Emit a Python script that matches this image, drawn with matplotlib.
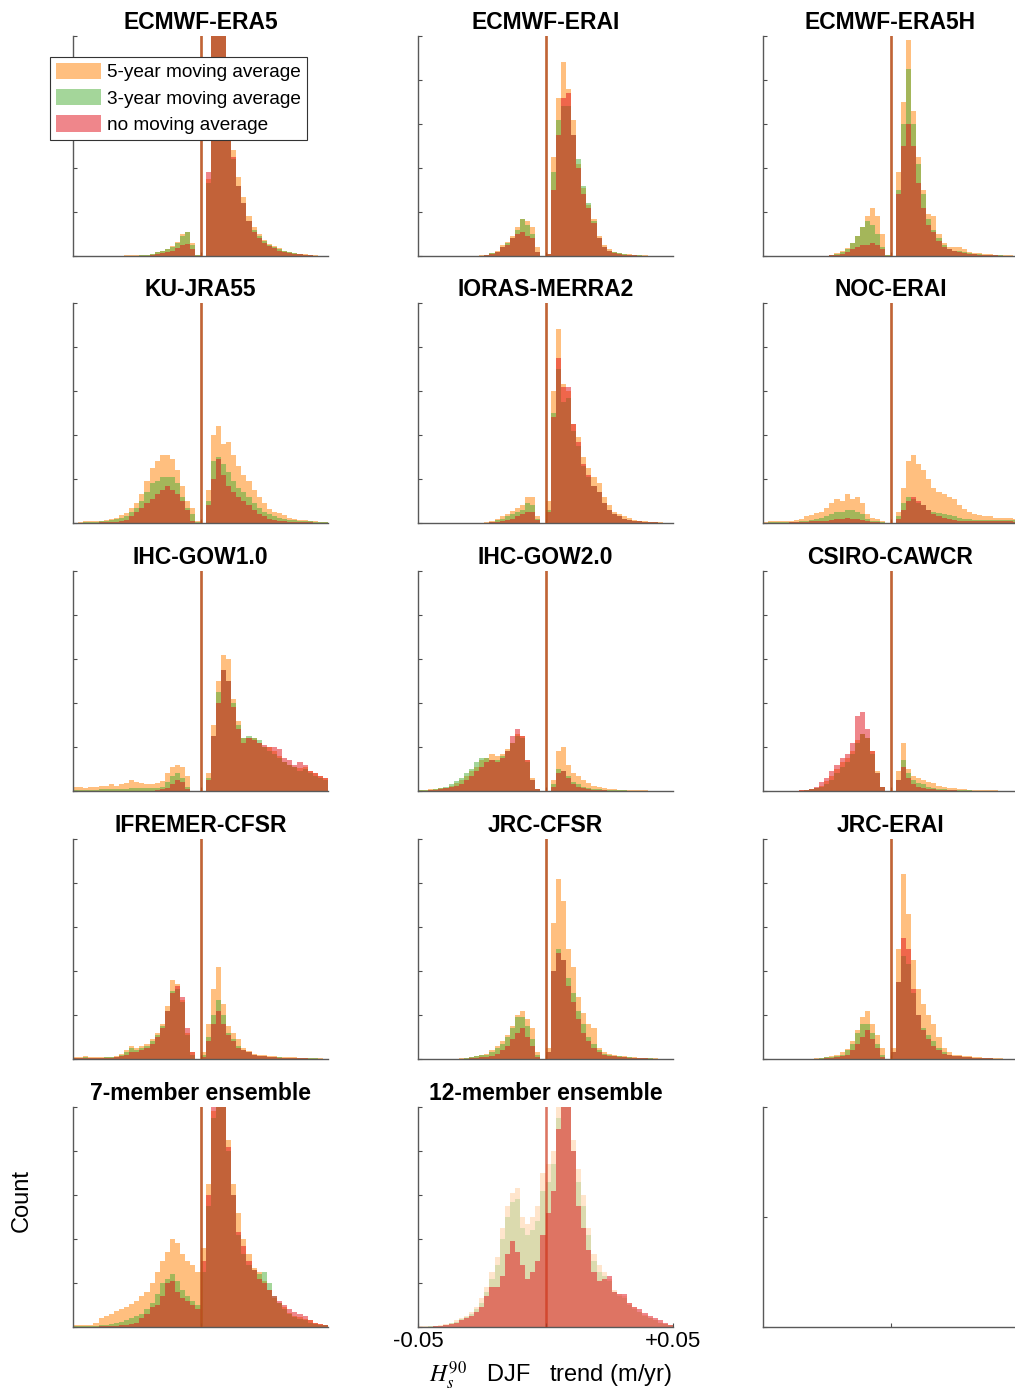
import numpy as np
import matplotlib
matplotlib.use("Agg")
import matplotlib.pyplot as plt
from matplotlib.patches import Patch

plt.rcParams['font.family'] = ['Liberation Sans', 'DejaVu Sans']
plt.rcParams['mathtext.fontset'] = 'stix'

# ---------------- data ----------------
BIN_EDGES = np.linspace(-0.05, 0.05, 51)   # trend bins (m/yr), width 0.002
SERIES_LABELS = ["5-year moving average", "3-year moving average", "no moving average"]
TITLES = ["ECMWF-ERA5", "ECMWF-ERAI", "ECMWF-ERA5H",
          "KU-JRA55", "IORAS-MERRA2", "NOC-ERAI",
          "IHC-GOW1.0", "IHC-GOW2.0", "CSIRO-CAWCR",
          "IFREMER-CFSR", "JRC-CFSR", "JRC-ERAI",
          "7-member ensemble", "12-member ensemble"]

# counts in relative units (axis top = 100); order: 5-yr, 3-yr, none
ERA5_5 = [0,0,0,0,0,0,0,0,0,0, 0.3,0.3,0.3,0.5,0.5,1,2,2.5,3,4.5, 6.5,10,11,6,0.5,0,35,110,130,115,
          72,48,36,27,18,13,10,7.5,5.5,4.5, 3.5,2.5,2,1.5,1,0.8,0.5,0.3,0.2,0]
ERA5_3 = [0,0,0,0,0,0,0,0,0,0, 0,0.2,0.2,0.3,0.5,1,2,2.5,3,4, 6,9,11,5,0.3,0,33,105,125,110,
          68,44,32,24,16,12,9,7,5,4, 3,2.5,2,1.5,1,0.6,0.4,0.2,0.1,0]
ERA5_0 = [0,0,0,0,0,0,0,0,0,0, 0,0,0,0,0,0.5,1,1.5,2,2.5, 3.5,5,5.5,3,0,0,38,110,135,112,
          70,45,32,24,16,11,8,6,4.5,3.5, 2.5,2,1.5,1,0.8,0.5,0.3,0.2,0.1,0]

ERAI_5 = [0,0,0,0,0,0,0,0,0,0, 0,0.1,0.3,0.5,1.5,2.5,5,6.5,9,13, 17,16,13,4,0,1,45,72,88,76,
          62,42,31,23,17,9,5,3,2,1.5, 1,0.8,0.6,0.4,0.3,0.2,0.1,0,0.1,0]
ERAI_3 = [0,0,0,0,0,0,0,0,0,0, 0,0,0.2,0.4,1.2,2,4,6,8,12, 17,14,10,2,0,1,38,62,68,68,
          55,44,32,24,16,8,4,2.5,1.8,1.2, 0.8,0.6,0.4,0.3,0.2,0.1,0.1,0,0,0]
ERAI_0 = [0,0,0,0,0,0,0,0,0,0, 0,0,0.2,0.4,1,1.8,4,5,8,10, 11,9,8,2,0,0.8,30,55,72,74,
          55,40,28,22,15,8,4,2.5,1.5,1, 0.6,0.5,0.3,0.2,0.2,0.1,0,0,0,0]

ERA5H_5 = [0,0,0,0,0,0,0,0,0,0, 0,0,0.2,0.5,1.5,2.5,3.5,6,9,13, 18,22,18,10,0.5,0,38,70,98,66,
           45,30,19,18,10,6,4,4,4,3, 2,1.5,1.2,1,0.8,0.6,0.5,0.4,0.3,0.2]
ERA5H_3 = [0,0,0,0,0,0,0,0,0,0, 0,0,0.2,0.4,1,2,3,6,9,13, 16,14,10,4,0.3,0,30,60,85,60,
           42,28,17,12,8,5,3,2.5,2.5,2, 1.5,1,0.8,0.6,0.5,0.4,0.3,0.2,0.2,0.1]
ERA5H_0 = [0,0,0,0,0,0,0,0,0,0, 0,0,0,0.3,0.5,1,2,3,4,5, 5,6,5,3,0,0,28,50,60,50,
           33,22,14,11,7,4,3,2.5,2,1.5, 1,0.8,0.6,0.5,0.4,0.3,0.2,0.2,0.1,0.1]

JRA55_5 = [0,0.3,0.7,0.8,0.7,1,1.2,2,2.5,3.5, 4.5,7,9,13,19,25,28,31,31,29, 24,17,10,7,1,0,15,40,44,36,
           37,31,26,22,19,15,12,9,6.5,5, 4.5,3.5,2.5,2,1.5,1.5,1,0.8,0.6,0.5]
JRA55_3 = [0,0.2,0.4,0.5,0.5,0.7,0.8,1.2,1.8,2.5, 3,5,7,10,14,18,19,21,21,21, 18,12,7,4,0.5,0,10,28,30,27,
           23,19,16,14,12,9,7,5,4,3, 2.5,2,1.5,1.2,1,1,0.8,0.6,0.5,0.4]
JRA55_0 = [0,0,0.2,0.2,0.2,0.3,0.3,0.4,0.5,1, 1.5,3,5,7,9,11,13,15,17,15, 13,10,6,1,0,0,8,20,29,22,
           17,14,12,10,8,6,4,3,2,1.5, 1,0.8,0.6,0.5,0.4,0.3,0.3,0.2,0.2,0.1]

MERRA2_5 = [0,0,0,0,0,0,0,0,0,0, 0,0,0,0.3,1,2,3,4,5.5,7, 8,12,12,3,0,10,60,88,63,60,
            45,39,30,25,21,18,12,8,5,4, 3,2.5,1.5,1,0.8,0.5,0.4,0.3,0.2,0.1]
MERRA2_3 = [0,0,0,0,0,0,0,0,0,0, 0,0,0,0.2,0.6,1.2,2,3,4,5, 6,9,8,2,0,6,50,70,55,57,
            42,35,26,21,17,14,9,6,4,3, 2,1.5,1,0.8,0.5,0.4,0.3,0.2,0.1,0.1]
MERRA2_0 = [0,0,0,0,0,0,0,0,0,0, 0,0,0,0,0.3,0.6,1,1.5,2,3, 4,5,5,1.5,0,5,48,75,62,62,
            45,37,27,22,17,14,9,6,4,3, 2,1.5,1,0.8,0.5,0.4,0.3,0.2,0.1,0.1]

NOC_5 = [0.5,0.7,1,0.8,0.8,1,1.5,2,3,3.5, 4.5,5,7,9,11,10,13,11,12,9, 4,2.5,2,1,0,0,5,16,28,31,
         27,24,20,16,14,13,12,11,8,6.5, 5,4,3.5,3,3,2.5,2.5,2.5,2.5,2]
NOC_3 = [0.2,0.3,0.4,0.4,0.4,0.5,0.5,0.7,1,1.5, 2,2.5,3,4,5,5,6,6,5,4, 2,1,1,0.5,0,0,3,9,12,11,
         9,8,6,5,4.5,4,3.5,3,2.5,2, 2,1.5,1.5,1.5,1.5,1.5,1.5,1.5,1.5,1.2]
NOC_0 = [0,0.1,0.2,0.2,0.2,0.3,0.3,0.4,0.5,0.7, 1,1,1,1.5,2,2,2.5,2,2,1.5, 1,0.5,0.3,0.2,0,0,2,6,10,12,
         10,8,6,4,3,2.5,2,1.5,1,0.8, 0.8,0.8,0.8,0.8,0.8,0.8,0.8,0.8,0.8,0.6]

GOW1_5 = [2,2,1.5,2,2,2.5,2.5,3,2.5,3, 3.5,5,4,3.5,3,3,3.5,4.5,8,11, 12,11,7,0,0,0,8,30,50,62,
          60,42,32,24,24,24,22,20,20,18, 16,13,12,11,10.5,11,9,8,7,6]
GOW1_3 = [0.5,0.5,0.5,0.6,0.6,0.7,0.7,0.8,0.8,0.9, 1,1.2,1.2,1.2,1.3,1.4,1.5,2,4,7, 8,6,2,0,0,0,6,25,45,55,
          50,40,30,24,25,24,23,20,18,17, 15,13,12,11,9,10,8,7,6,5]
GOW1_0 = [0,0,0,0,0,0,0,0,0,0, 0,0,0,0,0,0,0.5,1,1.5,3, 5,4,1,0,0,0,5,25,40,55,
          50,38,28,22,24,23,22,21,20,20, 19,15,14,12,13,12,9,8,7,6]

GOW2_5 = [0.5,0.5,0.8,1,1.2,1.5,2.5,3.5,5,7, 9,11,14,15,17,16,17,19,22,26, 25,14,6,1,0,0,5,18,20,12,
          8,7,5,3.5,2.5,2,1.2,1,0.8,0.6, 0.5,0.5,0.4,0.3,0.3,0.2,0.2,0.1,0.1,0]
GOW2_3 = [0.3,0.4,0.6,0.8,1.2,2,3,4.5,6,8, 10,13,15,15,14,14,16,18,22,25, 24,13,5,1,0,0,3,10,9,7,
          4,3,2,1.5,1,0.8,0.6,0.5,0.4,0.3, 0.3,0.2,0.2,0.1,0.1,0.1,0,0,0,0]
GOW2_0 = [0.1,0.2,0.3,0.5,0.8,1.2,1.8,2.5,3,5, 7,9,11,13,14,13,15,18,25,28, 25,14,5,1,0,0,2,8,9,6,
          3,2,1.5,1,0.5,0.4,0.3,0.2,0.2,0.1, 0.1,0.1,0,0,0,0,0,0,0,0]

CAWCR_5 = [0,0,0,0,0,0,0.2,0.3,0.5,1, 1.5,2.5,4.5,7,10,13,15,18,23,26, 24,18,9,2,0,0,9,22,10,7,
           6,5,4,3.5,2.5,2,1.5,1.2,1,0.8, 0.6,0.5,0.5,0.4,0.3,0.3,0.2,0.2,0.1,0.1]
CAWCR_3 = [0,0,0,0,0,0,0.1,0.2,0.4,0.7, 1.2,2,3,5,8,11,13,17,22,26, 24,17,8,2,0,0,5,14,8,5,
           3.5,3,2,1.5,1,0.8,0.6,0.5,0.4,0.3, 0.3,0.2,0.2,0.2,0.1,0.1,0.1,0,0,0]
CAWCR_0 = [0,0,0,0,0,0,0.2,0.3,0.5,1, 2,4,6,9,12,15,17,22,34,36, 28,18,8,2,0,0,5,11,6,3,
           2,1.5,1,0.8,0.6,0.5,0.4,0.3,0.2,0.2, 0.1,0.1,0.1,0.1,0,0,0,0,0,0]

IFRE_5 = [1,1,1.5,1,1,1,1,1,1.5,2.5, 4,6,5,6,7,9,12,16,24,36, 34,27,12,3,0,3,16,32,42,25,
          15,12,9,5,3.5,2.5,2,1.8,1.5,1.2, 1,1,0.8,0.7,0.6,0.5,0.5,0.4,0.3,0.2]
IFRE_3 = [0.5,0.5,0.8,0.6,0.6,0.6,0.7,0.8,1,1.8, 3,5,4,5,6,8,11,15,22,31, 32,26,11,2,0,2,10,20,27,20,
          12,9,6,4,3,2,1.5,1.2,1,0.8, 0.7,0.6,0.5,0.5,0.4,0.4,0.3,0.3,0.2,0.1]
IFRE_0 = [0.5,0.5,0.6,0.5,0.5,0.5,0.5,0.6,0.8,1.2, 2,3,3,4,5,7,10,14,22,30, 33,28,14,3,0,1,8,16,22,16,
          11,8,5,4,3,2,1.5,1.2,1,0.8, 0.6,0.5,0.4,0.4,0.3,0.3,0.2,0.2,0.1,0.1]

JCFSR_5 = [0,0,0,0,0,0,0,0,0.3,0.5, 1,1.5,2,2.5,4,6,8,11,15,20, 22,18,14,3,0,5,62,82,72,50,
           42,28,21,16,14,5,3,2.5,2,1.5, 1.2,1,0.8,0.6,0.5,0.4,0.3,0.2,0.1,0]
JCFSR_3 = [0,0,0,0,0,0,0,0,0.2,0.4, 0.8,1.2,1.6,2,3,5,7,10,14,19, 19,15,9,2,0,3,40,50,45,37,
           30,22,16,10,7,4,2.5,2,1.5,1.2, 1,0.8,0.6,0.5,0.4,0.3,0.2,0.1,0.1,0]
JCFSR_0 = [0,0,0,0,0,0,0,0,0.1,0.2, 0.4,0.6,0.8,1,1.5,2.5,4,6,9,12, 14,10,6,1,0,3,40,48,45,33,
           26,18,12,8,5,3,2,1.5,1.2,1, 0.8,0.6,0.5,0.4,0.3,0.2,0.1,0.1,0,0]

JERAI_5 = [0,0,0,0,0,0,0,0,0,0.2, 0.3,0.5,1,1.5,2,3,4.5,8,13,19, 22,16,11,5,0,5,50,84,66,45,
           32,25,20,16,10,5,3,2,1.8,1.5, 1.2,1,0.8,0.6,0.5,0.4,0.3,0.2,0.1,0]
JERAI_3 = [0,0,0,0,0,0,0,0,0,0.1, 0.2,0.4,0.7,1,1.5,2,4,7,12,16, 16,12,7,2,0,3,35,47,43,30,
           20,14,11,8,5,3,2,1.5,1.2,1, 0.8,0.6,0.5,0.4,0.3,0.2,0.2,0.1,0.1,0]
JERAI_0 = [0,0,0,0,0,0,0,0,0,0, 0.1,0.2,0.4,0.6,1,1.5,2,4,7,10, 13,9,5,1,0,3,35,55,50,32,
           20,13,9,6,4,2.5,2,1.5,1.2,1, 0.8,0.6,0.5,0.4,0.3,0.2,0.1,0.1,0,0]

ENS7_5 = [1,0.8,0.8,1,2,4,5,6,7.5,8, 9,10.5,12,14,16,20,25,30,34,40, 38,33,30,28,25,36,65,98,120,110,
          85,65,52,40,33,27,25,21,17,13, 11,9,6.5,5,4.5,3.5,3,2,1.5,1]
ENS7_3 = [0.3,0.3,0.3,0.4,0.5,0.8,1,1.5,2,2.5, 3,4,5,6,8,11,15,20,22,24, 21,17,14,12,10,25,55,95,115,105,
          80,60,42,33,28,26,24,25,20,14, 11,8,6,4.5,3.5,3,2,1.5,1,0.8]
ENS7_0 = [0,0,0,0,0.2,0.3,0.4,0.5,0.6,0.8, 1,1.5,2,4,6,9,10,14,20,21, 16,13,12,10,8,30,60,100,120,110,
          82,60,43,37,30,26,22,20,17,14, 12,10,8,7,6,5,3,2,1.5,1]

ENS12_5 = [0.3,0.3,0.4,0.5,0.8,1.2,2,3,4,5, 7,9,13,18,25,32,45,55,61,63, 50,47,50,55,70,74,80,100,120,115,
           85,72,60,45,33,28,25,22,17,15, 14,11,9,7,5.5,4,3,2,1.5,1]
ENS12_3 = [0.2,0.2,0.3,0.4,0.6,1,1.6,2.5,3.5,4.5, 6,8,11,16,22,28,40,50,57,58, 45,42,44,48,62,66,74,95,118,112,
           80,66,55,42,30,25,23,21,16,14, 13,10,8,7,5,4,3,2,1.5,1]
ENS12_0 = [0.2,0.2,0.2,0.3,0.5,0.8,1.2,2,3,4, 5,7,9,14,18,18,23,33,39,34, 28,22,25,30,42,52,62,90,115,110,
           80,55,45,35,25,21,22,23,16,15, 15,11,9,8,6.5,5,4,3,2,1]

PANELS = [
    (ERA5_5, ERA5_3, ERA5_0), (ERAI_5, ERAI_3, ERAI_0), (ERA5H_5, ERA5H_3, ERA5H_0),
    (JRA55_5, JRA55_3, JRA55_0), (MERRA2_5, MERRA2_3, MERRA2_0), (NOC_5, NOC_3, NOC_0),
    (GOW1_5, GOW1_3, GOW1_0), (GOW2_5, GOW2_3, GOW2_0), (CAWCR_5, CAWCR_3, CAWCR_0),
    (IFRE_5, IFRE_3, IFRE_0), (JCFSR_5, JCFSR_3, JCFSR_0), (JERAI_5, JERAI_3, JERAI_0),
    (ENS7_5, ENS7_3, ENS7_0), (ENS12_5, ENS12_3, ENS12_0),
]

# ---------------- style ----------------
COLORS = ['#FF8000', '#4BAF37', '#E10F19']
ALPHA_STD = [0.5, 0.5, 0.5]
ALPHA_12 = [0.2, 0.2, 0.5]
SPINE = '0.35'

W, H = 1015, 1393
fig = plt.figure(figsize=(W / 100, H / 100), dpi=100)
col_left = [73, 418, 763]
row_top = [36, 303, 571, 839, 1107]
aw, ah = 255, 220


def make_axes(k):
    r, c = divmod(k, 3)
    ax = fig.add_axes([col_left[c] / W, 1 - (row_top[r] + ah) / H, aw / W, ah / H])
    ax.set_xlim(-0.05, 0.05)
    ax.set_ylim(0, 100)
    for s in ('top', 'right'):
        ax.spines[s].set_visible(False)
    for s in ('left', 'bottom'):
        ax.spines[s].set_color(SPINE)
        ax.spines[s].set_linewidth(1.0)
    ax.tick_params(direction='in', length=3, width=0.8, color='0.3')
    ax.set_xticks([0])
    ax.set_xticklabels([])
    ax.set_yticks(np.linspace(0, 100, 6))
    ax.set_yticklabels([])
    return ax


for k, (title, series) in enumerate(zip(TITLES, PANELS)):
    ax = make_axes(k)
    alphas = ALPHA_12 if k == 13 else ALPHA_STD
    for vals, col, a in zip(series, COLORS, alphas):
        ax.stairs(vals, BIN_EDGES, fill=True, color=col, alpha=a, linewidth=0)
    for col, a in zip(COLORS, alphas):
        ax.axvline(0, color=col, alpha=a, lw=1.8, zorder=3)
    ax.set_title(title, fontsize=16.5, fontweight='bold', pad=5)
    if k == 13:
        ax.set_xticks([-0.05, 0, 0.05])
        ax.set_xticklabels(['-0.05', '', '+0.05'], fontsize=16)
        ax.tick_params(axis='x', pad=3)

# empty 15th panel
ax = make_axes(14)
ax.set_ylim(0, 1)
ax.set_yticks([0, 0.5, 1])
ax.set_yticklabels([])

# legend
handles = [Patch(facecolor=c, alpha=0.5, edgecolor='none') for c in COLORS]
leg = fig.legend(handles, SERIES_LABELS, loc='upper left',
                 bbox_to_anchor=(50 / W, 1 - 57 / H), borderaxespad=0,
                 fontsize=13.7, frameon=True, fancybox=False, framealpha=1,
                 edgecolor='0.2', handlelength=2.4, handleheight=0.95,
                 handletextpad=0.3, labelspacing=0.4, borderpad=0.3)
leg.get_frame().set_linewidth(0.8)

fig.text(22 / W, 1 - 1200 / H, 'Count', rotation=90, fontsize=17,
         ha='center', va='center')
fig.text(550 / W, 1 - 1376 / H, r'$H_s^{90}$   DJF   trend (m/yr)', fontsize=17,
         ha='center', va='center')

fig.savefig('out.png', dpi=100)
